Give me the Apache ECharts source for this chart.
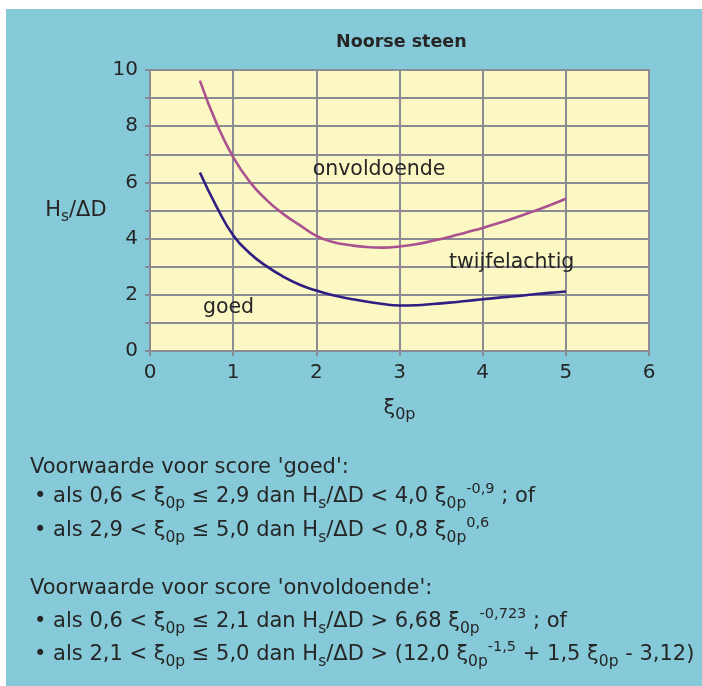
<!DOCTYPE html>
<html>
<head>
<meta charset="utf-8">
<script src="https://cdn.jsdelivr.net/npm/echarts@6/dist/echarts.min.js"></script>
<style>
  html, body { margin: 0; padding: 0; background: #ffffff; }
  #chart { width: 702px; height: 686px; }
</style>
</head>
<body>
<div id="chart"></div>
<script>
// Golfsteilheid xi_0p langs de horizontale as
const xi = [0.6, 0.8, 1.0, 1.2, 1.4, 1.6, 1.8, 2.0, 2.2, 2.4, 2.6, 2.8, 3.0, 3.2, 3.4, 3.6, 3.8, 4.0, 4.2, 4.4, 4.6, 4.8, 5.0];
// Grens 'onvoldoende' (Hs/ΔD)
const grensOnvoldoende = [9.62, 8.1, 6.9, 6.02, 5.38, 4.88, 4.48, 4.1, 3.88, 3.77, 3.7, 3.68, 3.72, 3.8, 3.92, 4.06, 4.22, 4.38, 4.56, 4.75, 4.96, 5.18, 5.42];
// Grens 'goed' (Hs/ΔD)
const grensGoed = [6.35, 5.14, 4.12, 3.48, 3.02, 2.65, 2.36, 2.15, 1.98, 1.86, 1.76, 1.67, 1.62, 1.63, 1.67, 1.72, 1.78, 1.84, 1.9, 1.95, 2.01, 2.07, 2.12];
// Namen van de zones en hun plaats in het diagram
const zoneNamen = ['onvoldoende', 'twijfelachtig', 'goed'];
const zonePlaats = [[1.95, 6.44], [3.59, 3.13], [0.63, 1.53]];

const FONT = '"DejaVu Sans", "Open Sans", sans-serif';
const TEXT = '#262626';
const GRID = '#8b8b95';

const rich = {
  b: { fontSize: 21, fontFamily: FONT, fill: TEXT, lineHeight: 30, verticalAlign: 'middle' },
  sub: { fontSize: 15.5, fontFamily: FONT, fill: TEXT, lineHeight: 16, verticalAlign: 'bottom' },
  sup: { fontSize: 14.5, fontFamily: FONT, fill: TEXT, lineHeight: 20, verticalAlign: 'top' }
};
const X = '{b|ξ}{sub|0p}';
const H = '{b|H}{sub|s}{b|/ΔD}';

const regels = [
  { y: 468, x: 30, t: "{b|Voorwaarde voor score 'goed':}" },
  { y: 497, x: 34, t: '{b|• als 0,6 < }' + X + '{b| ≤ 2,9 dan }' + H + '{b| < 4,0 }' + X + '{sup|-0,9}{b| ; of}' },
  { y: 531, x: 34, t: '{b|• als 2,9 < }' + X + '{b| ≤ 5,0 dan }' + H + '{b| < 0,8 }' + X + '{sup|0,6}' },
  { y: 589, x: 30, t: "{b|Voorwaarde voor score 'onvoldoende':}" },
  { y: 622, x: 34, t: '{b|• als 0,6 < }' + X + '{b| ≤ 2,1 dan }' + H + '{b| > 6,68 }' + X + '{sup|-0,723}{b| ; of}' },
  { y: 655, x: 34, t: '{b|• als 2,1 < }' + X + '{b| ≤ 5,0 dan }' + H + '{b| > (12,0 }' + X + '{sup|-1,5}{b| + 1,5 }' + X + '{b| - 3,12)}' }
];

const chart = echarts.init(document.getElementById('chart'), null, { renderer: 'canvas' });

chart.setOption({
  backgroundColor: '#86cad9',
  animation: false,
  title: {
    text: 'Noorse steen',
    left: 331,
    top: 28,
    textStyle: { fontFamily: FONT, fontSize: 17.5, fontWeight: 'bold', color: TEXT }
  },
  grid: {
    left: 150, right: 53, top: 70, bottom: 335,
    show: true,
    backgroundColor: '#fbf8c4',
    borderColor: GRID,
    borderWidth: 2
  },
  xAxis: {
    type: 'value',
    min: 0, max: 6, interval: 1,
    name: '{x|ξ}{s|0p}',
    nameLocation: 'middle',
    nameGap: 44,
    nameTextStyle: {
      rich: {
        x: { fontFamily: FONT, fontSize: 21, color: TEXT, lineHeight: 28, verticalAlign: 'middle' },
        s: { fontFamily: FONT, fontSize: 16, color: TEXT, lineHeight: 14, verticalAlign: 'bottom' }
      }
    },
    axisLine: { show: true, lineStyle: { color: GRID, width: 2 } },
    axisTick: { show: true, length: 5, lineStyle: { color: GRID, width: 2 } },
    axisLabel: { fontFamily: FONT, fontSize: 20, color: TEXT, margin: 12 },
    splitLine: { show: true, lineStyle: { color: GRID, width: 2 } }
  },
  yAxis: {
    type: 'value',
    min: 0, max: 10, interval: 1,
    name: '{h|H}{s|s}{h|/ΔD}',
    nameLocation: 'middle',
    nameRotate: 0,
    nameGap: 43,
    nameTextStyle: {
      rich: {
        h: { fontFamily: FONT, fontSize: 21, color: TEXT, lineHeight: 28, verticalAlign: 'middle' },
        s: { fontFamily: FONT, fontSize: 15.5, color: TEXT, lineHeight: 15, verticalAlign: 'bottom' }
      }
    },
    axisLine: { show: true, lineStyle: { color: GRID, width: 2 } },
    axisTick: { show: true, length: 5, lineStyle: { color: GRID, width: 2 } },
    axisLabel: {
      fontFamily: FONT, fontSize: 20, color: TEXT, margin: 12,
      formatter: v => (v % 2 === 0 ? String(v) : '')
    },
    splitLine: { show: true, lineStyle: { color: GRID, width: 2 } }
  },
  series: [
    {
      name: 'onvoldoende',
      type: 'line',
      data: xi.map((x, i) => [x, grensOnvoldoende[i]]),
      smooth: 0.5,
      symbol: 'none',
      lineStyle: { color: '#a9528f', width: 2.6 },
      z: 3
    },
    {
      name: 'goed',
      type: 'line',
      data: xi.map((x, i) => [x, grensGoed[i]]),
      smooth: 0.5,
      symbol: 'none',
      lineStyle: { color: '#2f1f82', width: 2.6 },
      z: 3
    },
    {
      name: 'zones',
      type: 'scatter',
      symbolSize: 1,
      itemStyle: { color: 'rgba(0,0,0,0)', opacity: 1 },
      silent: true,
      data: zoneNamen.map((n, i) => ({ name: n, value: zonePlaats[i] })),
      label: {
        show: true,
        position: 'right',
        distance: 0,
        opacity: 1,
        formatter: p => p.name,
        fontFamily: FONT,
        fontSize: 20.5,
        color: TEXT
      },
      z: 4
    }
  ],
  graphic: [
    { type: 'rect', shape: { x: 0, y: 0, width: 702, height: 9 }, style: { fill: '#ffffff' }, silent: true },
    { type: 'rect', shape: { x: 0, y: 0, width: 6, height: 686 }, style: { fill: '#ffffff' }, silent: true }
  ].concat(regels.map(r => ({
    type: 'text',
    x: r.x,
    y: r.y,
    silent: true,
    style: {
      text: r.t,
      rich: rich,
      fontSize: 21,
      fontFamily: FONT,
      fill: TEXT,
      textAlign: 'left',
      textVerticalAlign: 'middle'
    }
  })))
});
</script>
</body>
</html>
